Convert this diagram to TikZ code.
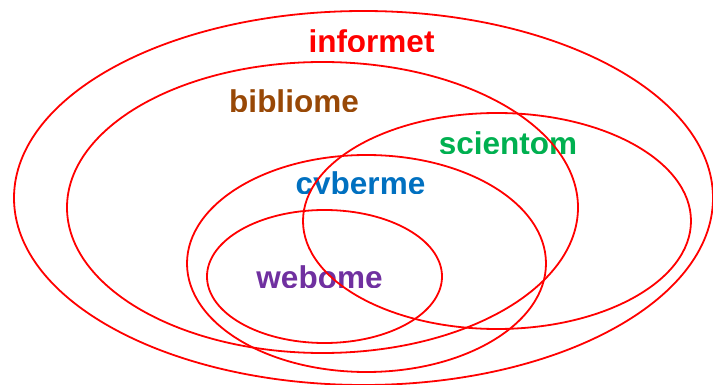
\documentclass[tikz,border=0pt]{standalone}
\usepackage{fontspec}
\setmainfont{Liberation Sans}
\definecolor{cinformet}{HTML}{FF0000}
\definecolor{cbibliome}{HTML}{984806}
\definecolor{cscientom}{HTML}{00B050}
\definecolor{ccyberme}{HTML}{0070C0}
\definecolor{cwebome}{HTML}{7030A0}
\begin{document}
\begin{tikzpicture}[x=1pt,y=-1pt,
  ring/.style={draw=red, line width=1.8pt},
  lbl/.style={font=\bfseries\fontsize{31.5}{36}\selectfont, anchor=base, inner sep=0pt}]
\useasboundingbox (0,0) rectangle (713,385);
% labels, clipped at their baselines
\begin{scope}
  \clip (250,0) rectangle (500,52);
  \node[lbl, text=cinformet] (informet) at (371.5,53) {informet};
\end{scope}
\begin{scope}
  \clip (200,60) rectangle (400,112);
  \node[lbl, text=cbibliome] (bibliome) at (294,113) {bibliome};
\end{scope}
\begin{scope}
  \clip (420,110) rectangle (600,154);
  \node[lbl, text=cscientom] (scientom) at (508,155) {scientom};
\end{scope}
\begin{scope}
  \clip (270,150) rectangle (450,194);
  \node[lbl, text=ccyberme] (cyberme) at (360.5,195) {cyberme};
\end{scope}
\begin{scope}
  \clip (230,240) rectangle (410,287);
  \node[lbl, text=cwebome] (webome) at (319.5,288) {webome};
\end{scope}
% ellipses
\draw[ring] (363.5,198) ellipse [x radius=349.5pt, y radius=187pt];
\draw[ring] (322.5,207.5) ellipse [x radius=255.5pt, y radius=145.5pt];
\draw[ring] (497,221) ellipse [x radius=194pt, y radius=108pt];
\draw[ring] (366.5,263.5) ellipse [x radius=179.5pt, y radius=108.5pt];
\draw[ring] (324.5,276.5) ellipse [x radius=117.5pt, y radius=66.5pt];
\end{tikzpicture}
\end{document}
